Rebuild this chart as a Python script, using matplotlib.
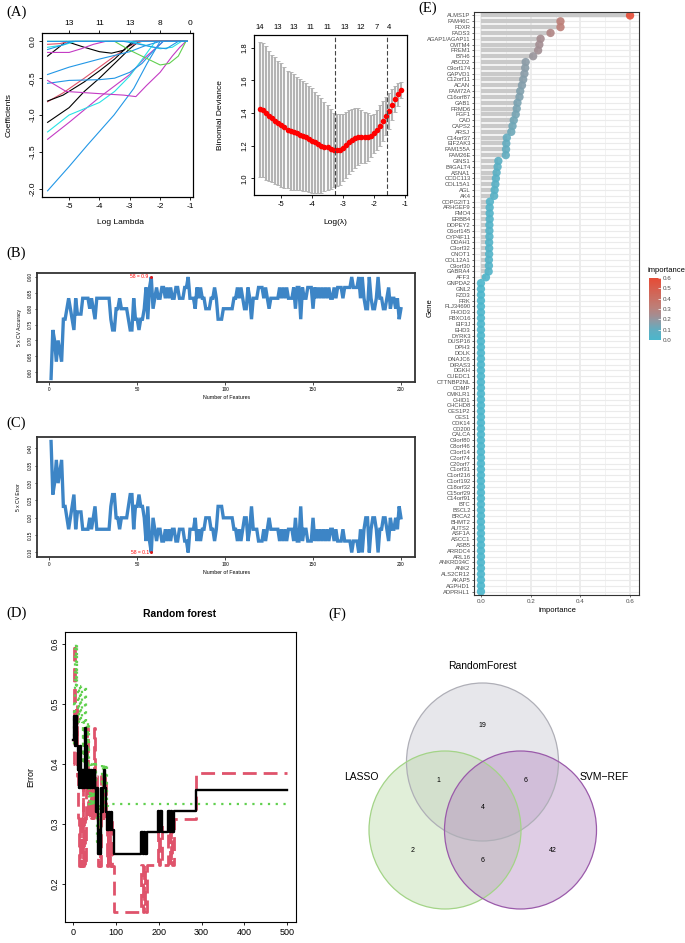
import numpy as np
import matplotlib
matplotlib.use("Agg")
import matplotlib.pyplot as plt
from matplotlib.colors import LinearSegmentedColormap, Normalize
from matplotlib.cm import ScalarMappable
from matplotlib.patches import Ellipse

plt.rcParams["font.family"] = ["Liberation Sans", "DejaVu Sans"]
plt.rcParams["axes.unicode_minus"] = False

#%% data
# (A) lasso coefficient paths (log lambda knots, coefficient knots)
lasso_path_x = [
    [-5.71, -5.0, -4.4, -3.52, -2.87, -2.43, -2.1, -2.0, -1.1],
    [-5.71, -5.0, -4.0, -3.0, -2.5, -2.0, -1.9, -1.1],
    [-5.71, -5.0, -4.0, -3.5, -3.0, -2.6, -2.3, -2.15, -1.1],
    [-5.71, -5.0, -4.5, -4.0, -3.5, -3.0, -2.7, -1.1],
    [-5.71, -5.2, -4.5, -4.0, -3.5, -3.0, -2.6, -1.1],
    [-5.71, -5.2, -4.5, -4.0, -3.5, -3.1, -2.8, -1.1],
    [-5.71, -5.4, -5.1, -4.5, -4.0, -3.6, -3.2, -2.9, -1.1],
    [-5.71, -5.0, -4.0, -3.0, -2.5, -2.0, -1.1],
    [-5.71, -5.0, -4.0, -3.5, -3.0, -2.6, -2.2, -1.9, -1.1],
    [-5.71, -5.1, -4.0, -3.2, -2.8, -2.45, -2.0, -1.6, -1.35, -1.15, -1.1],
    [-5.71, -3.5, -3.0, -2.5, -2.0, -1.7, -1.4, -1.15, -1.1],
    [-5.71, -5.0, -4.6, -4.2, -3.8, -1.1],
    [-5.71, -5.2, -4.8, -1.1],
    [-5.71, -5.3, -5.0, -1.1],
    [-5.71, -5.3, -4.9, -1.1],
    [-5.71, -3.0, -2.5, -2.0, -1.6, -1.3, -1.1],
    [-5.71, -3.2, -2.8, -2.2, -1.8, -1.4, -1.1],
]
lasso_path_y = [
    [-2.03, -1.70, -1.41, -1.0, -0.64, -0.30, -0.07, 0, 0],
    [-1.33, -1.10, -0.76, -0.45, -0.22, -0.04, 0, 0],
    [-1.23, -1.00, -0.83, -0.68, -0.47, -0.25, -0.08, 0, 0],
    [-1.10, -0.90, -0.68, -0.50, -0.30, -0.10, 0, 0],
    [-0.82, -0.70, -0.50, -0.35, -0.20, -0.06, 0, 0],
    [-0.81, -0.73, -0.55, -0.40, -0.24, -0.08, 0, 0],
    [-0.20, -0.10, 0, -0.08, -0.14, -0.16, -0.12, 0, 0],
    [-0.45, -0.35, -0.24, -0.14, -0.06, 0, 0],
    [-0.57, -0.53, -0.52, -0.50, -0.42, -0.30, -0.12, 0, 0],
    [-0.53, -0.68, -0.71, -0.73, -0.75, -0.60, -0.42, -0.20, -0.08, 0, 0],
    [0, 0, -0.12, -0.22, -0.32, -0.30, -0.20, 0, 0],
    [-0.15, -0.15, -0.10, -0.04, 0, 0],
    [-0.08, -0.05, 0, 0],
    [-0.04, -0.03, 0, 0],
    [-0.11, -0.06, 0, 0],
    [0, 0, -0.05, -0.10, -0.08, 0, 0],
    [0, 0, -0.03, -0.08, -0.10, 0, 0],
]
lasso_path_col = ["#2297E6", "#C43BC4", "#28E2E5", "black", "#DF536B", "black", "black",
                  "#2297E6", "#2297E6", "#C43BC4", "#61D04F", "#C43BC4", "#28E2E5",
                  "#DF536B", "#2297E6", "#28E2E5", "#2297E6"]
lasso_top_at = [-5, -4, -3, -2, -1]
lasso_top_lab = ["13", "11", "13", "8", "0"]

# (A) cross-validated binomial deviance
cv_loglam = [-5.7, -5.6, -5.5, -5.4, -5.3, -5.2, -5.1, -5.0, -4.9, -4.8, -4.7, -4.6,
             -4.5, -4.4, -4.3, -4.2, -4.1, -4.0, -3.9, -3.8, -3.7, -3.6, -3.5, -3.4,
             -3.3, -3.2, -3.1, -3.0, -2.9, -2.8, -2.7, -2.6, -2.5, -2.4, -2.3, -2.2,
             -2.1, -2.0, -1.9, -1.8, -1.7, -1.6, -1.5, -1.4, -1.3, -1.2, -1.1]
cv_dev = [1.424, 1.418, 1.400, 1.383, 1.368, 1.353, 1.340, 1.327, 1.312, 1.298, 1.290, 1.283,
          1.276, 1.268, 1.260, 1.251, 1.241, 1.231, 1.220, 1.209, 1.200, 1.195, 1.189, 1.182,
          1.175, 1.173, 1.176, 1.188, 1.205, 1.222, 1.236, 1.246, 1.255, 1.256, 1.252, 1.251,
          1.260, 1.275, 1.296, 1.322, 1.352, 1.382, 1.415, 1.450, 1.484, 1.515, 1.542]
cv_se = [0.413, 0.410, 0.410, 0.400, 0.390, 0.390, 0.380, 0.377, 0.370, 0.360, 0.360, 0.355,
         0.345, 0.340, 0.335, 0.330, 0.325, 0.320, 0.310, 0.300, 0.290, 0.275, 0.262, 0.245,
         0.225, 0.219, 0.218, 0.206, 0.200, 0.197, 0.190, 0.182, 0.174, 0.163, 0.156, 0.147,
         0.130, 0.122, 0.124, 0.125, 0.122, 0.116, 0.110, 0.095, 0.080, 0.070, 0.050]
cv_vlines = [-3.27, -1.58]
cv_top_at = [-5.71, -5.13, -4.60, -4.05, -3.51, -2.93, -2.41, -1.90, -1.50]
cv_top_lab = ["14", "13", "13", "11", "11", "13", "12", "7", "4"]

# (B)/(C) SVM-RFE 5 x CV error by number of features
n_features = list(range(1, 201))
cv_err = [
    0.42, 0.267, 0.30, 0.367, 0.30, 0.333, 0.367, 0.233, 0.233, 0.20,
    0.167, 0.20, 0.233, 0.267, 0.167, 0.217, 0.217, 0.217, 0.167, 0.167,
    0.167, 0.167, 0.20, 0.167, 0.20, 0.233, 0.167, 0.167, 0.167, 0.167,
    0.167, 0.167, 0.167, 0.167, 0.233, 0.267, 0.267, 0.20, 0.20, 0.167,
    0.20, 0.20, 0.20, 0.20, 0.233, 0.267, 0.267, 0.167, 0.233, 0.233,
    0.267, 0.233, 0.233, 0.20, 0.133, 0.233, 0.133, 0.10, 0.20, 0.167,
    0.133, 0.167, 0.167, 0.133, 0.133, 0.167, 0.133, 0.167, 0.133, 0.167,
    0.167, 0.133, 0.133, 0.167, 0.167, 0.167, 0.133, 0.133, 0.10, 0.167,
    0.167, 0.167, 0.20, 0.133, 0.167, 0.133, 0.167, 0.167, 0.20, 0.20,
    0.20, 0.167, 0.167, 0.133, 0.167, 0.233, 0.233, 0.233, 0.20, 0.20,
    0.20, 0.20, 0.20, 0.20, 0.167, 0.167, 0.133, 0.167, 0.133, 0.167,
    0.20, 0.20, 0.133, 0.167, 0.233, 0.167, 0.167, 0.167, 0.133, 0.133,
    0.133, 0.167, 0.133, 0.167, 0.20, 0.167, 0.167, 0.167, 0.167, 0.167,
    0.133, 0.167, 0.133, 0.167, 0.133, 0.167, 0.167, 0.167, 0.133, 0.20,
    0.133, 0.133, 0.233, 0.133, 0.167, 0.167, 0.133, 0.133, 0.133, 0.20,
    0.133, 0.167, 0.133, 0.167, 0.133, 0.167, 0.133, 0.167, 0.133, 0.167,
    0.167, 0.133, 0.167, 0.133, 0.133, 0.133, 0.167, 0.133, 0.133, 0.133,
    0.133, 0.10, 0.133, 0.133, 0.133, 0.10, 0.167, 0.10, 0.167, 0.20,
    0.20, 0.10, 0.167, 0.20, 0.20, 0.167, 0.10, 0.167, 0.167, 0.20,
    0.20, 0.167, 0.133, 0.20, 0.167, 0.167, 0.20, 0.167, 0.233, 0.20,
]
cv_acc = [round(1 - e, 3) for e in cv_err]
best_n = 58

# (D) random forest error vs number of trees (step breakpoints)
rf_early = [1, 3, 5, 7, 9, 11, 13, 15, 17, 19, 21, 23, 25, 27, 29, 31, 33, 35, 37, 39,
            41, 43, 45, 47, 49, 51, 53, 55, 57, 59, 61, 63, 65, 67, 69, 71, 73, 75, 77, 79,
            81, 83, 85, 87, 89, 91, 93, 95, 97]
rf_late = [160, 163, 166, 169, 172, 175, 198, 201, 204, 207, 222, 226, 229, 232, 237, 287, 500]
rf_oob = [0.44, 0.48, 0.43, 0.48, 0.46, 0.43, 0.39, 0.36, 0.43, 0.36,
          0.39, 0.36, 0.39, 0.36, 0.46, 0.43, 0.36, 0.39, 0.36, 0.39,
          0.36, 0.39, 0.36, 0.39, 0.36, 0.39, 0.36, 0.32, 0.36, 0.25,
          0.29, 0.25, 0.32, 0.36, 0.32, 0.36, 0.39, 0.36, 0.32, 0.29,
          0.32, 0.29, 0.32, 0.29, 0.32, 0.29, 0.29, 0.25, 0.25,
          0.286, 0.25, 0.286, 0.25, 0.286, 0.286, 0.321, 0.286, 0.321, 0.286,
          0.321, 0.286, 0.321, 0.286, 0.321, 0.357, 0.357]
rf_class1 = [0.40, 0.60, 0.50, 0.45, 0.50, 0.38, 0.31, 0.23, 0.31, 0.23,
             0.31, 0.38, 0.23, 0.31, 0.23, 0.38, 0.46, 0.31, 0.38, 0.31,
             0.38, 0.31, 0.38, 0.31, 0.46, 0.38, 0.31, 0.38, 0.31, 0.23,
             0.31, 0.23, 0.31, 0.38, 0.31, 0.38, 0.31, 0.38, 0.31, 0.23,
             0.31, 0.23, 0.31, 0.23, 0.31, 0.23, 0.23, 0.154, 0.154,
             0.231, 0.154, 0.231, 0.154, 0.231, 0.231, 0.308, 0.231, 0.308, 0.231,
             0.308, 0.231, 0.308, 0.231, 0.308, 0.385, 0.385]
rf_class2 = [0.50, 0.43, 0.60, 0.53, 0.60, 0.53, 0.47, 0.53, 0.47, 0.53,
             0.47, 0.40, 0.47, 0.40, 0.53, 0.47, 0.40, 0.47, 0.40, 0.33,
             0.40, 0.33, 0.40, 0.33, 0.40, 0.33, 0.40, 0.33, 0.27, 0.33,
             0.27, 0.33, 0.27, 0.33, 0.40, 0.33, 0.40, 0.33, 0.40, 0.33,
             0.333, 0.333, 0.333, 0.333, 0.333, 0.333, 0.333, 0.333, 0.333]
rf_class2_trees = rf_early + [500]
rf_class2_end = [0.333]

# (E) random forest gene importance
genes = ["ALMS1P", "FAM46C", "FDXR", "FADS3", "AGAP1/AGAP11", "CMTM4", "FREM1", "B7H6",
         "ABCD2", "C9orf174", "GAPVD1", "C12orf11", "ACAN", "FAM72A", "C16orf87", "GAB1",
         "FRMD6", "FGF1", "CAD", "CAPS2", "ARSJ", "C14orf37", "EIF2AK3", "FAM155A",
         "FAM26E", "GINS1", "B4GALT4", "ASNA1", "CCDC113", "COL15A1", "AGL", "AK4",
         "COPG2IT1", "ARHGEF9", "FMO4", "ERBB4", "DOPEY2", "C6orf145", "CYP4F11", "DDAH1",
         "C3orf32", "CNOT1", "COL12A1", "C9orf30", "GABRA4", "AFF3", "GNPDA2", "GNL2",
         "FZD3", "FRK", "FLJ34690", "FHOD3", "FBXO16", "EIF3J", "EHD3", "DYRK3",
         "DUSP16", "DPH3", "DOLK", "DNAJC6", "DIRAS3", "DGKH", "CUEDC1", "CTTNBP2NL",
         "COMP", "CMKLR1", "CHID1", "CHCHD8", "CES1P2", "CES1", "CDK14", "CD200",
         "CALCA", "C9orf80", "C8orf46", "C3orf14", "C2orf74", "C20orf7", "C1orf31", "C1orf216",
         "C1orf192", "C18orf32", "C15orf29", "C14orf91", "BTC", "BSCL2", "BRCA2", "BHMT2",
         "AUTS2", "ASF1A", "ASCC1", "ASB5", "ARRDC4", "ARL16", "ANKRD34C", "ANK2",
         "ALS2CR12", "AKAP5", "AGPHD1", "ADPRHL1"]
importance = [0.60, 0.32, 0.32, 0.28, 0.24, 0.235, 0.23, 0.21,
              0.18, 0.178, 0.175, 0.17, 0.165, 0.158, 0.155, 0.147,
              0.144, 0.14, 0.132, 0.127, 0.122, 0.104, 0.102, 0.101,
              0.10, 0.07, 0.067, 0.063, 0.06, 0.058, 0.055, 0.053,
              0.036, 0.035, 0.035, 0.035, 0.034, 0.034, 0.034, 0.033,
              0.033, 0.033, 0.032, 0.032, 0.031, 0.02] + [0.0] * 54

# (F) Venn counts
venn_sets = ["RandomForest", "LASSO", "SVM\u2212REF"]
venn_counts = {"RF": 19, "RF_LASSO": 1, "RF_SVM": 6, "ALL": 4, "LASSO": 2, "SVM": 42, "LASSO_SVM": 6}

#%% layout helpers
W, H = 685, 943
fig = plt.figure(figsize=(W / 100, H / 100), dpi=100)


def box(x0, y0, x1, y1):
    return [x0 / W, 1 - y1 / H, (x1 - x0) / W, (y1 - y0) / H]


def ftext(x, y, s, **kw):
    fig.text(x / W, 1 - y / H, s, **kw)


def rstyle(ax, fs, lw=0.8):
    ax.tick_params(direction="out", length=2.5, width=0.6, labelsize=fs, pad=1.5)
    for sp in ax.spines.values():
        sp.set_linewidth(lw)


serif = dict(family=["Liberation Serif", "DejaVu Serif"], fontsize=10.5, va="center", ha="left")

#%% (A) left: coefficient paths
ax = fig.add_axes(box(42, 33, 193, 197))
for xs, ys, c in zip(lasso_path_x, lasso_path_y, lasso_path_col):
    ax.plot(xs, ys, color=c, lw=0.8)
ax.set_xlim(-5.894, -0.916)
ax.set_ylim(-2.114, 0.114)
ax.set_xticks([-5, -4, -3, -2, -1])
ax.set_yticks([0, -0.5, -1.0, -1.5, -2.0])
ax.set_yticklabels(["0.0", "-0.5", "-1.0", "-1.5", "-2.0"], rotation=90, va="center")
rstyle(ax, 6)
top = ax.twiny()
top.set_xlim(ax.get_xlim())
top.set_xticks(lasso_top_at)
top.set_xticklabels(lasso_top_lab)
rstyle(top, 6)
ftext(120, 222, "Log Lambda", fontsize=6, ha="center", va="center")
ftext(9, 115, "Coefficients", fontsize=6, ha="center", va="center", rotation=90)
ftext(6, 12, "(A)", **serif)

#%% (A) right: cv deviance
ax = fig.add_axes(box(254, 35, 407, 195))
ax.errorbar(cv_loglam, cv_dev, yerr=cv_se, fmt="none", ecolor="#B4B4B4", elinewidth=1.5,
            capsize=1.3, capthick=0.7)
ax.plot(cv_loglam, cv_dev, "o", color="red", ms=4.0, mew=0)
for v in cv_vlines:
    ax.axvline(v, color="#444444", lw=0.8, ls=(0, (4, 2)))
ax.set_xlim(-5.89, -0.92)
ax.set_ylim(0.898, 1.878)
ax.set_xticks([-5, -4, -3, -2, -1])
ax.set_yticks([1.0, 1.2, 1.4, 1.6, 1.8])
ax.set_yticklabels(["1.0", "1.2", "1.4", "1.6", "1.8"], rotation=90, va="center")
rstyle(ax, 5.5)
top = ax.twiny()
top.set_xlim(ax.get_xlim())
top.set_xticks(cv_top_at)
top.set_xticklabels(cv_top_lab)
top.tick_params(length=0, labelsize=5.5, pad=3)
ftext(335, 222, "Log(\u03bb)", fontsize=6, ha="center", va="center")
ftext(221, 115, "Binomial Deviance", fontsize=6, ha="center", va="center", rotation=90)

#%% (B) accuracy and (C) error
line_col = "#3D85C6"
for (y0, y1), vals, ylim, yt, ylab, lab, txt, letter_y in [
    ((273, 382), cv_acc, (0.569, 0.9126), [0.60, 0.65, 0.70, 0.75, 0.80, 0.85, 0.90],
     "5 x CV Accuracy", "(B)", "58 = 0.9", 253),
    ((437, 557), cv_err, (0.087, 0.433), [0.10, 0.15, 0.20, 0.25, 0.30, 0.35, 0.40],
     "5 x CV Error", "(C)", "58 = 0.1", 423)]:
    ax = fig.add_axes(box(37, y0, 415, y1))
    ax.plot(n_features, vals, color=line_col, lw=2.4, solid_joinstyle="miter")
    bv = vals[best_n - 1]
    ax.plot(best_n, bv, "o", color="#D7191C", ms=2.2, mew=0)
    ax.text(best_n - 1.5, bv, txt, color="red", fontsize=3.6, ha="right", va="center")
    ax.set_xlim(-7, 208)
    ax.set_ylim(*ylim)
    ax.set_xticks([0, 50, 100, 150, 200])
    ax.set_yticks(yt)
    ax.set_yticklabels([f"{t:.2f}" for t in yt], rotation=90, va="center")
    rstyle(ax, 3.4, lw=1.3)
    for sp in ax.spines.values():
        sp.set_color("#333333")
    ax.tick_params(length=1.8, width=0.5)
    ftext(19, (y0 + y1) / 2, ylab, fontsize=3.6, ha="center", va="center", rotation=90)
    ftext(227, y1 + 15.5, "Number of Features", fontsize=3.8, ha="center", va="center")
    ftext(6, letter_y, lab, **serif)

#%% (D) random forest error
ax = fig.add_axes(box(65, 632, 296, 922))
ax.step(rf_early + rf_late, rf_class1, where="post", color="#DF536B", lw=2.0,
        ls=(0, (5, 2.5)))
ax.step(rf_class2_trees, rf_class2 + rf_class2_end, where="post", color="#61D04F", lw=1.6,
        ls=(0, (1, 2.5)))
ax.step(rf_early + rf_late, rf_oob, where="post", color="black", lw=1.7)
ax.set_xlim(-18, 520)
ax.set_ylim(0.1367, 0.62)
ax.set_xticks([0, 100, 200, 300, 400, 500])
ax.set_yticks([0.2, 0.3, 0.4, 0.5, 0.6])
ax.set_yticklabels(["0.2", "0.3", "0.4", "0.5", "0.6"], rotation=90, va="center")
rstyle(ax, 6.5)
ftext(31, 777, "Error", fontsize=6.5, ha="center", va="center", rotation=90)
ftext(180, 614, "Random forest", fontsize=7.5, fontweight="bold", ha="center", va="center")
ftext(6, 613, "(D)", **serif)

#%% (E) gene importance
cmap = LinearSegmentedColormap.from_list(
    "imp", [(0, "#4BB6CC"), (0.17, "#62ACBF"), (0.3, "#8C9BA6"), (0.4, "#A58C90"),
            (0.53, "#BD7F78"), (1, "#E64B35")])
norm = Normalize(0, 0.6)
ax = fig.add_axes(box(474, 12, 639, 595))
n = len(genes)
ypos = np.arange(n, 0, -1)
xl = (-0.028, 0.636)
for v in [0.1, 0.3, 0.5]:
    ax.axvline(v, color="#F0F0F0", lw=0.6, zorder=0)
for v in [0, 0.2, 0.4, 0.6]:
    ax.axvline(v, color="#E8E8E8", lw=1.1, zorder=0)
ax.hlines(ypos, xl[0], xl[1], color="#EBEBEB", lw=0.8, zorder=0)
ax.hlines(ypos, 0, importance, color="#C9C9C9", lw=3.2, zorder=1)
ax.scatter(importance, ypos, c=importance, cmap=cmap, norm=norm, s=36, alpha=0.9,
           linewidths=0, zorder=2)
ax.set_xlim(*xl)
ax.set_ylim(0.4, n + 0.6)
ax.set_yticks(ypos)
ax.set_yticklabels(genes)
ax.set_xticks([0, 0.2, 0.4, 0.6])
ax.set_xticklabels(["0.0", "0.2", "0.4", "0.6"])
ax.tick_params(axis="y", length=1.5, width=0.5, labelsize=4.2, pad=1, colors="#333333",
               labelcolor="#4D4D4D")
ax.tick_params(axis="x", length=1.5, width=0.5, labelsize=4.5, pad=1.5, colors="#333333",
               labelcolor="#4D4D4D")
for sp in ax.spines.values():
    sp.set_color("#333333")
    sp.set_linewidth(0.8)
ftext(430, 308, "Gene", fontsize=5.5, ha="center", va="center", rotation=90)
ftext(557, 610, "importance", fontsize=5.5, ha="center", va="center")
ftext(418, 8, "(E)", **serif)

cax = fig.add_axes(box(649, 278, 661, 340))
cb = fig.colorbar(ScalarMappable(norm=norm, cmap=cmap), cax=cax, ticks=[0, 0.1, 0.2, 0.3, 0.4, 0.5, 0.6])
cb.outline.set_visible(False)
cb.ax.set_yticklabels(["0.0", "0.1", "0.2", "0.3", "0.4", "0.5", "0.6"])
cb.ax.tick_params(length=2, width=0.5, color="white", direction="in", labelsize=4.5, pad=1.5,
                  labelcolor="#4D4D4D")
ftext(648, 271, "importance", fontsize=5.5, ha="left", va="center")

#%% (F) Venn
ax = fig.add_axes(box(330, 640, 685, 943))
ax.set_xlim(330, 685)
ax.set_ylim(943, 640)
ax.axis("off")
circles = [((482.5, 762), "#C5C5CF", "#AFAFB7"),
           ((445, 830), "#B6D7A0", "#A3D487"),
           ((520.5, 830), "#B182BE", "#9A5AAA")]
for (cx, cy), fc, ec in circles:
    ax.add_patch(Ellipse((cx, cy), 152, 158, facecolor=fc, alpha=0.4, edgecolor="none"))
for (cx, cy), fc, ec in circles:
    ax.add_patch(Ellipse((cx, cy), 152, 158, fill=False, edgecolor=ec, lw=0.9))
ax.text(482.5, 666, venn_sets[0], fontsize=7.5, ha="center", va="center")
ax.text(361, 777, venn_sets[1], fontsize=7.5, ha="center", va="center")
ax.text(604, 777, venn_sets[2], fontsize=7.5, ha="center", va="center")
for key, (x, y) in {"RF": (482.5, 725.5), "RF_LASSO": (438.5, 780.5), "RF_SVM": (526, 780.5),
                    "ALL": (482.5, 807.5), "LASSO": (412.5, 850.5), "SVM": (552.5, 850.5),
                    "LASSO_SVM": (482.5, 860.5)}.items():
    ax.text(x, y, str(venn_counts[key]), fontsize=5, ha="center", va="center")
ftext(328, 614, "(F)", **serif)

fig.savefig("out.png", dpi=100)
